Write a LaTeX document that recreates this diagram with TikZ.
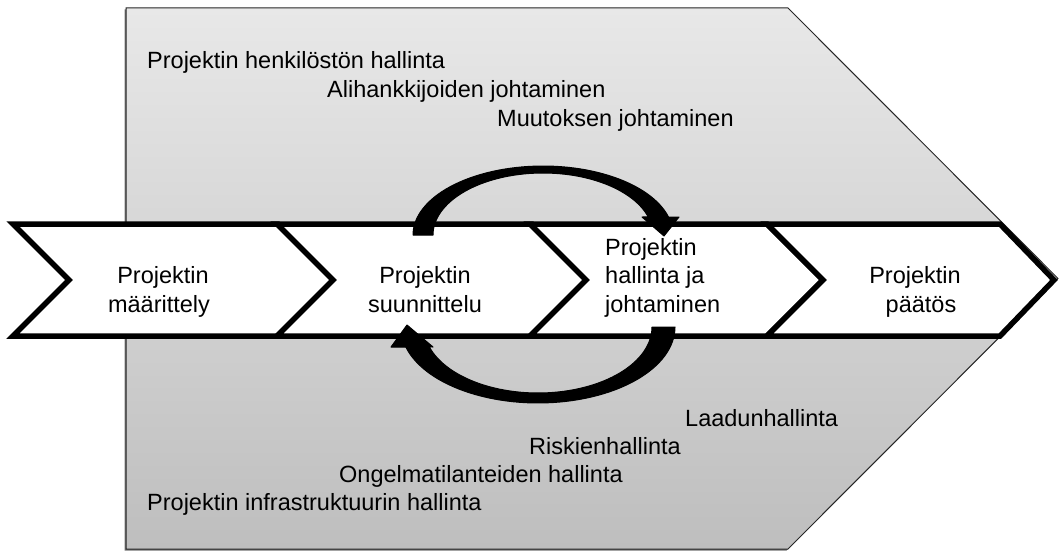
\documentclass[tikz,border=0pt]{standalone}
\usepackage{fontspec}
\setmainfont{Liberation Sans}
\begin{document}
\begin{tikzpicture}[x=1pt,y=-1pt,
  chev/.style={draw=black,fill=white,line width=5.5pt,line join=miter},
  band/.style={fill=black,draw=black,line width=1pt,line join=round},
  lbl/.style={inner sep=0pt,font=\fontsize{23.5}{29}\selectfont,text=black},
]
\useasboundingbox (0,0) rectangle (1059,551);
% shadow of the big arrow
\fill[black!55] (124.5,9.5) -- (786.5,9.5) -- (1056,280) -- (786.5,550.5) -- (124.5,550.5) -- cycle;
% big pentagon arrow
\path[draw=black!85,line width=1pt,top color={rgb,255:red,232;green,232;blue,232},bottom color={rgb,255:red,190;green,190;blue,190}]
  (126,8) -- (788,8) -- (1058,278.5) -- (788,549) -- (126,549) -- cycle;
% chevrons
\draw[chev] (13,224) -- (278,224) -- (334,280) -- (278,336) -- (13,336) -- (69,280) -- cycle;
\draw[chev] (277,224) -- (532,224) -- (588,280) -- (532,336) -- (277,336) -- (333,280) -- cycle;
\draw[chev] (530,224) -- (767,224) -- (823,280) -- (767,336) -- (530,336) -- (586,280) -- cycle;
\draw[chev] (767,224) -- (1000,224) -- (1054,280) -- (1000,336) -- (767,336) -- (823,280) -- cycle;
% circular arrows
\filldraw[band] plot[domain=180:15.1,samples=60] ({543+130*cos(\x)},{235-69*sin(\x)})
  -- (679,217) -- (664,236) -- (642,217)
  -- plot[domain=16.9:180,samples=60] ({543+110*cos(\x)},{235-62*sin(\x)}) -- cycle;
\filldraw[band] plot[domain=0:164.7,samples=60] ({538+137*cos(\x)},{327+76*sin(\x)})
  -- (391,347) -- (407,325) -- (433,347)
  -- plot[domain=162.4:0,samples=60] ({538+114*cos(\x)},{327+66*sin(\x)}) -- cycle;
% chevron texts
\node[lbl,anchor=base] (c1a) at (163,283) {Projektin};
\node[lbl,anchor=base] (c1b) at (159,312) {määrittely};
\node[lbl,anchor=base] (c2a) at (425,283) {Projektin};
\node[lbl,anchor=base] (c2b) at (425,312) {suunnittelu};
\node[lbl,anchor=base west] (c3a) at (605,255) {Projektin};
\node[lbl,anchor=base west] (c3b) at (605,283) {hallinta ja};
\node[lbl,anchor=base west] (c3c) at (605,312) {johtaminen};
\node[lbl,anchor=base] (c4a) at (915,283) {Projektin};
\node[lbl,anchor=base] (c4b) at (921,312) {päätös};
% upper labels
\node[lbl,anchor=base west] (t1) at (147,68) {Projektin henkilöstön hallinta};
\node[lbl,anchor=base west] (t2) at (327,97) {Alihankkijoiden johtaminen};
\node[lbl,anchor=base west] (t3) at (497,126) {Muutoksen johtaminen};
% lower labels
\node[lbl,anchor=base west] (b1) at (685,426) {Laadunhallinta};
\node[lbl,anchor=base west] (b2) at (529,454) {Riskienhallinta};
\node[lbl,anchor=base west] (b3) at (339,482) {Ongelmatilanteiden hallinta};
\node[lbl,anchor=base west] (b4) at (147,510) {Projektin infrastruktuurin hallinta};
\end{tikzpicture}
\end{document}
